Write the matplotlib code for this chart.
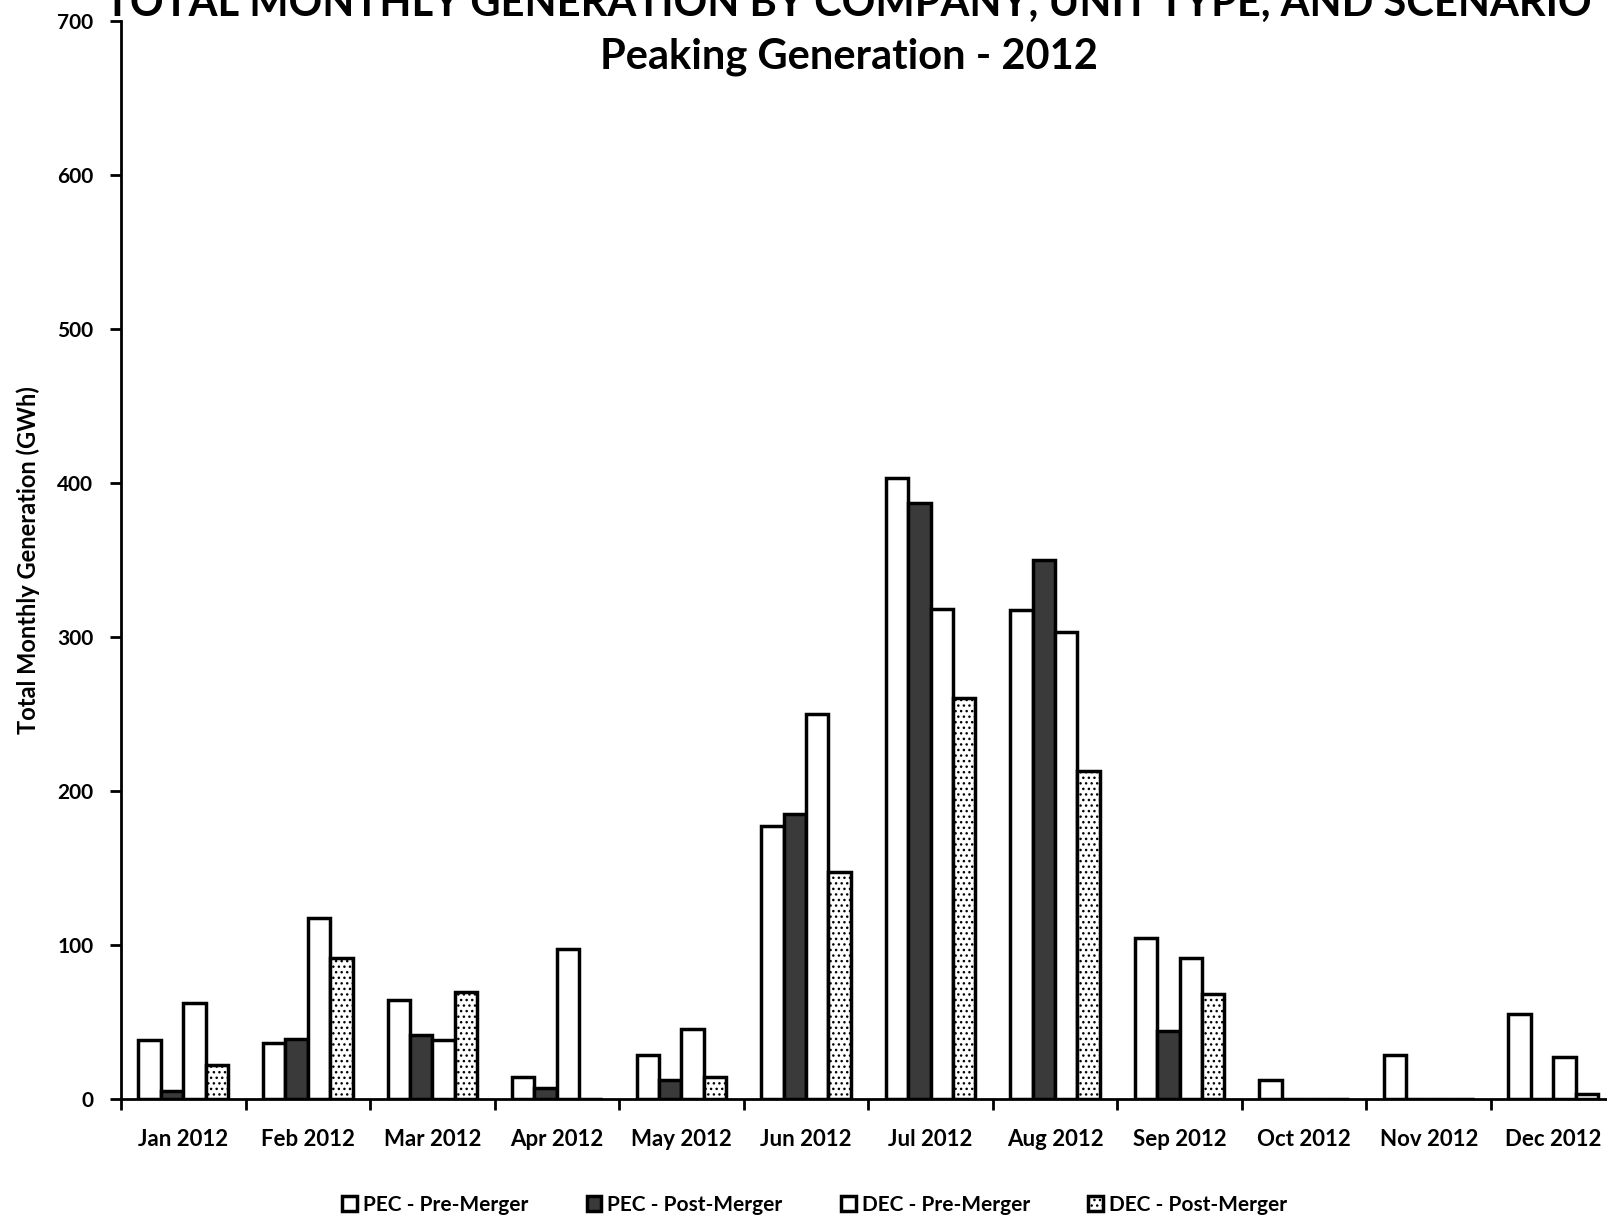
import numpy as np
import matplotlib.pyplot as plt

plt.rcParams['font.family'] = ['Lato', 'DejaVu Sans']

months = ['Jan 2012', 'Feb 2012', 'Mar 2012', 'Apr 2012', 'May 2012', 'Jun 2012',
          'Jul 2012', 'Aug 2012', 'Sep 2012', 'Oct 2012', 'Nov 2012', 'Dec 2012']
pec_pre = [38, 36, 64, 14, 28, 177, 403, 317, 104, 12, 28, 55]
pec_post = [5, 39, 41, 7, 12, 185, 387, 350, 44, 0, 0, 0]
dec_pre = [62, 117, 38, 97, 45, 250, 318, 303, 91, 0, 0, 27]
dec_post = [22, 91, 69, 0, 14, 147, 260, 213, 68, 0, 0, 3]

fig = plt.figure(figsize=(16.07, 12.22), dpi=100)
ax = fig.add_axes([0.0753, 0.101, 0.93, 0.882])

x = np.arange(len(months))
w = 0.18
kw = dict(width=w, edgecolor='black', linewidth=2.5)
ax.bar(x - 1.5 * w, pec_pre, color='white', label='PEC - Pre-Merger', **kw)
ax.bar(x - 0.5 * w, pec_post, color='#3a3a3a', label='PEC - Post-Merger', **kw)
ax.bar(x + 0.5 * w, dec_pre, color='white', label='DEC - Pre-Merger', **kw)
ax.bar(x + 1.5 * w, dec_post, color='white', hatch='...', label='DEC - Post-Merger', **kw)

ax.set_xlim(-0.5, len(months) - 0.5)
ax.set_ylim(0, 700)
ax.set_yticks(range(0, 701, 100))
ax.set_xticks(x)
ax.set_xticklabels(months, fontsize=16, fontweight='bold')
ax.set_xticks(np.arange(-0.5, len(months), 1), minor=True)
ax.tick_params(axis='x', which='major', length=0, pad=22)
ax.tick_params(axis='x', which='minor', length=8, width=2)
ax.tick_params(axis='y', length=8, width=2, labelsize=15, pad=12)
for lab in ax.get_yticklabels():
    lab.set_fontweight('bold')

for s in ['top', 'right']:
    ax.spines[s].set_visible(False)
for s in ['left', 'bottom']:
    ax.spines[s].set_linewidth(2)

ax.set_ylabel('Total Monthly Generation (GWh)', fontsize=17, fontweight='bold', labelpad=12)

# top heading line sits partly above the page edge
fig.text(0.528, 1 - 16 / 1222, 'TOTAL MONTHLY GENERATION BY COMPANY, UNIT TYPE, AND SCENARIO',
         ha='center', va='baseline', fontsize=30, fontweight='bold')
fig.text(0.528, 1 - 68 / 1222, 'Peaking Generation - 2012',
         ha='center', va='baseline', fontsize=30, fontweight='bold')

leg = fig.legend(loc='center', bbox_to_anchor=(0.507, 0.014), ncol=4, frameon=False,
                 fontsize=15, handlelength=0.7, handleheight=0.7, columnspacing=2.8,
                 handletextpad=0.3)
for t in leg.get_texts():
    t.set_fontweight('bold')

fig.savefig('out.png', dpi=100)
